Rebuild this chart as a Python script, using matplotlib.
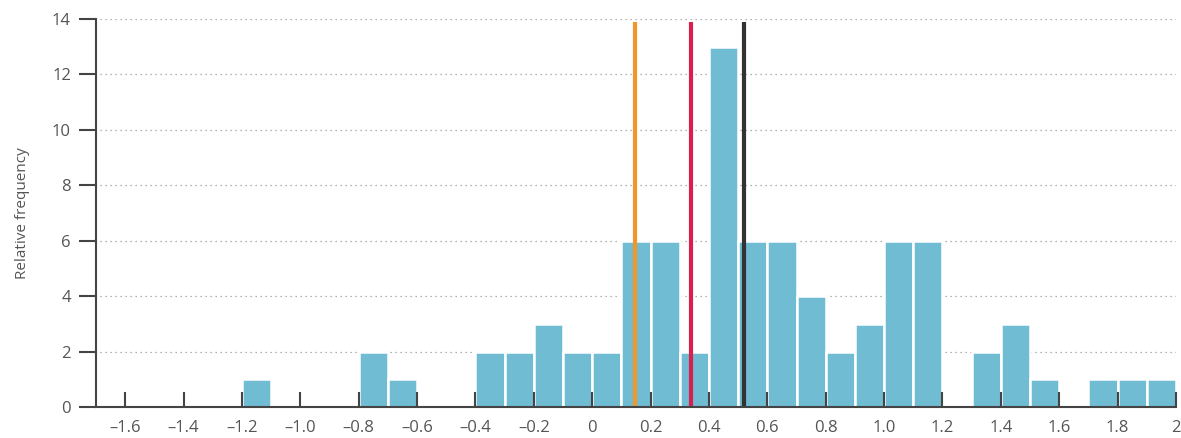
import matplotlib
matplotlib.use("Agg")
import matplotlib.pyplot as plt
import numpy as np

# Data
bin_edges_left = [round(-1.6 + 0.1 * i, 1) for i in range(36)]
counts = [0, 0, 0, 0, 1, 0, 0, 0, 2, 1, 0, 0, 2, 2, 3, 2,
          2, 6, 6, 2, 13, 6, 6, 4, 2, 3, 6, 6, 0, 2, 3, 1,
          0, 1, 1, 1]
bin_width = 0.1
vline_values = [0.145, 0.34, 0.52]
vline_colors = ["#f0962a", "#d81f50", "#333333"]
x_ticks = [-1.6, -1.4, -1.2, -1.0, -0.8, -0.6, -0.4, -0.2, 0, 0.2, 0.4, 0.6, 0.8, 1.0, 1.2, 1.4, 1.6, 1.8, 2]
x_tick_labels = ["–1.6", "–1.4", "–1.2", "–1.0", "–0.8", "–0.6", "–0.4", "–0.2", "0", "0.2", "0.4",
                 "0.6", "0.8", "1.0", "1.2", "1.4", "1.6", "1.8", "2"]
y_ticks = [0, 2, 4, 6, 8, 10, 12, 14]

plt.rcParams['font.family'] = ['Open Sans', 'DejaVu Sans']

fig = plt.figure(figsize=(11.81, 4.38), dpi=100)
ax = fig.add_axes([96/1181, 1 - 407/438, (1176 - 96)/1181, (407 - 19)/438])

axis_color = "#444444"
text_color = "#555555"

lefts = [l for l, c in zip(bin_edges_left, counts) if c > 0]
heights = [c for c in counts if c > 0]
ax.bar(lefts, heights, width=bin_width, align='edge', color="#6fbcd3",
       edgecolor="white", linewidth=1.8, zorder=2)

for v, c in zip(vline_values, vline_colors):
    ax.plot([v, v], [0, 13.9], color=c, linewidth=3, zorder=3, solid_capstyle='butt')

ax.set_xlim(-1.7, 2.0)
ax.set_ylim(0, 14)
ax.set_xticks(x_ticks)
ax.set_xticklabels(x_tick_labels)
ax.set_yticks(y_ticks)

for yv in y_ticks[1:]:
    ax.axhline(yv, xmin=0.004, xmax=1, color="#999999", linestyle=(0, (1, 3)), linewidth=0.9, zorder=1)

for s in ['top', 'right']:
    ax.spines[s].set_visible(False)
for s in ['left', 'bottom']:
    ax.spines[s].set_color(axis_color)
    ax.spines[s].set_linewidth(1.5)
    ax.spines[s].set_zorder(4)
ax.xaxis.set_zorder(4)
ax.yaxis.set_zorder(4)

ax.tick_params(axis='x', direction='in', length=11, width=1.5, color=axis_color,
               labelsize=12, labelcolor=text_color, pad=9)
ax.tick_params(axis='y', direction='out', length=12, width=1.5, color=axis_color,
               labelsize=12, labelcolor=text_color, pad=6)

ax.set_ylabel("Relative frequency", fontsize=11, color=text_color, labelpad=16)

fig.savefig("out.png", dpi=100)
